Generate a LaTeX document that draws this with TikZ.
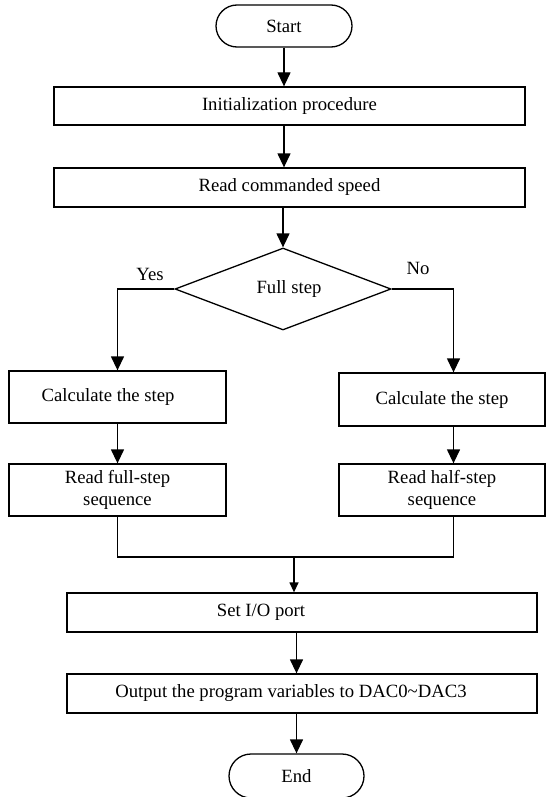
\documentclass[tikz,border=0pt]{standalone}
\usepackage{fontspec}
\setmainfont{Liberation Serif}
\usetikzlibrary{arrows.meta,shapes.geometric}
\begin{document}
\begin{tikzpicture}[x=1pt,y=-1pt,
  every node/.style={font=\fontsize{18.7}{22}\selectfont},
  box/.style={draw, line width=1.3pt, inner sep=0pt, align=center},
  term/.style={draw, line width=1.3pt, rounded corners=21pt, minimum width=136pt, minimum height=42pt, inner sep=0pt},
  decision/.style={draw, diamond, line width=1.3pt, minimum width=216pt, minimum height=82pt, inner sep=0pt, aspect=2.6},
  arr/.style={line width=1.3pt, -{Triangle[length=14pt,width=13pt]}},
  arrs/.style={line width=1.3pt, -{Triangle[length=10pt,width=9pt]}},
  ln/.style={line width=1.3pt}]
\useasboundingbox (0,0) rectangle (546,797);
\clip (0,0) rectangle (546,797);
\node[term] (start) at (284,26) {Start};
\node[box, minimum width=471pt, minimum height=38pt] (init) at (289.5,106) {Initialization procedure};
\node[box, minimum width=471pt, minimum height=39pt] (speed) at (289.5,187.5) {Read commanded speed};
\node[decision] (dec) at (283,289) {\hspace*{12pt}Full step};
\node (yes) at (150,274) {Yes};
\node (no) at (418,268) {No};
\node[box, minimum width=217pt, minimum height=52pt] (calcL) at (117.5,397) {\hspace*{-19pt}Calculate the step};
\node[box, minimum width=206pt, minimum height=53pt] (calcR) at (442,399.5) {Calculate the step};
\node[box, minimum width=217pt, minimum height=52pt] (readL) at (117.5,490) {Read full-step\\sequence};
\node[box, minimum width=206pt, minimum height=52pt] (readR) at (442,490) {Read half-step\\sequence};
\coordinate (m) at (294,557);
\node[box, minimum width=470pt, minimum height=39pt] (io) at (302,612.5) {\hspace*{-82pt}Set I/O port};
\node[box, minimum width=470pt, minimum height=39pt] (out) at (302,693.5) {\hspace*{-22pt}Output the program variables to DAC0\textasciitilde DAC3};
\node[term, minimum width=135pt, minimum height=44pt, rounded corners=22pt] (end) at (296.5,776) {End};
\draw[arr] (start) -- (start |- init.north);
\draw[arr] (init.south -| start) -- (speed.north -| start);
\draw[arr] (speed.south -| dec.north) -- (dec.north);
\draw[arr] (dec.west) -| (calcL.north);
\draw[arr] (dec.east) -| ([xshift=11.5pt]calcR.north);
\draw[arr] (calcL) -- (readL);
\draw[arr] ([xshift=11.5pt]calcR.south) -- ([xshift=11.5pt]readR.north);
\draw[ln] (readL.south) |- (m) -| ([xshift=11.5pt]readR.south);
\draw[arrs] (m) -- (m |- io.north);
\draw[arr] (io.south -| end) -- (out.north -| end);
\draw[arr] (out.south -| end) -- (end);
\end{tikzpicture}
\end{document}
